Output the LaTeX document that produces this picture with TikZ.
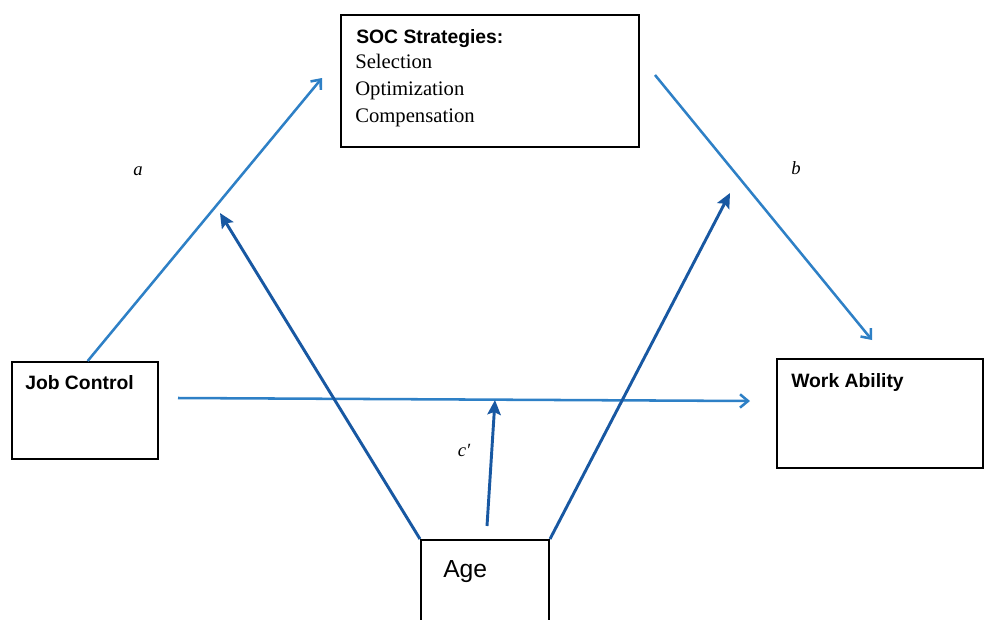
\documentclass[tikz,border=0pt]{standalone}
\usepackage{fontspec}
\setmainfont{Liberation Serif}
\setsansfont{Liberation Sans}
\usetikzlibrary{arrows.meta}
\definecolor{pathblue}{RGB}{46,128,198}
\definecolor{ageblue}{RGB}{24,88,162}

\begin{document}
\begin{tikzpicture}[x=0.75pt,y=0.75pt,yscale=-1,xscale=1,
  varbox/.style={draw=black,line width=1.5pt,inner sep=0pt},
  boxtext/.style={anchor=base west,inner sep=0pt,font=\sffamily\bfseries\fontsize{14.5}{17}\selectfont},
  itemtext/.style={anchor=base west,inner sep=0pt,font=\fontsize{15.5}{18}\selectfont},
  pathlabel/.style={anchor=base,inner sep=0pt,font=\itshape\fontsize{14}{16}\selectfont},
  pathline/.style={draw=pathblue,line width=1.9pt,-{Straight Barb[length=6pt,width=10pt,line width=1.9pt]}},
  ageline/.style={draw=ageblue,line width=2.2pt,-{Stealth[length=11pt,width=10pt,inset=2pt]}}]
\useasboundingbox (0,0) rectangle (985,619);
\clip (0,0) rectangle (985,619);

%Shape: Rectangle (mediator)
\node [varbox,minimum width=223.5pt,minimum height=99pt] (soc) at (490,81) {};
%Shape: Rectangle (predictor)
\node [varbox,minimum width=109.5pt,minimum height=72.75pt] (jobctrl) at (85,410.5) {};
%Shape: Rectangle (outcome)
\node [varbox,minimum width=154.5pt,minimum height=81.75pt] (workab) at (880,413.5) {};
%Shape: Rectangle (moderator)
\node [varbox,minimum width=96pt,minimum height=90pt] (age) at (485,600) {};

% free ends of the paths
\coordinate (aend) at (322,78);
\coordinate (bstart) at (655,75);
\coordinate (bend) at (872,340);
\coordinate (cstart) at (178,398);
\coordinate (cend) at (750,401);
\coordinate (ageleft) at (220,213);
\coordinate (ageright) at (730,193);
\coordinate (agemidstart) at (487,526);
\coordinate (agemid) at (495,400);

%Straight Lines: paths a, b, c'
\draw [pathline] ([xshift=2pt]jobctrl.north) -- (aend);
\draw [pathline] (bstart) -- (bend);
\draw [pathline] (cstart) -- (cend);
%Straight Lines: moderation by age
\draw [ageline] (age.north west) -- (ageleft);
\draw [ageline] (age.north east) -- (ageright);
\draw [ageline] (agemidstart) -- (agemid);

% Text Node
\node [boxtext] (soctitle) at (356,43) {SOC Strategies:};
\node [itemtext] (selection) at (355,68) {Selection};
\node [itemtext] (optimization) at (355,95) {Optimization};
\node [itemtext] (compensation) at (355,122) {Compensation};
% Text Node
\node [boxtext] (jobctrltext) at (25,389) {Job Control};
\node [boxtext] (workabtext) at (791,387) {Work Ability};
\node [boxtext,font=\sffamily\fontsize{18.5}{21}\selectfont] (agetext) at (443,577) {Age};
% Text Node
\node [pathlabel] (alabel) at (138,175) {a};
\node [pathlabel] (blabel) at (796,174) {b};
\node [pathlabel] (clabel) at (464,456) {c′};
\end{tikzpicture}
\end{document}
